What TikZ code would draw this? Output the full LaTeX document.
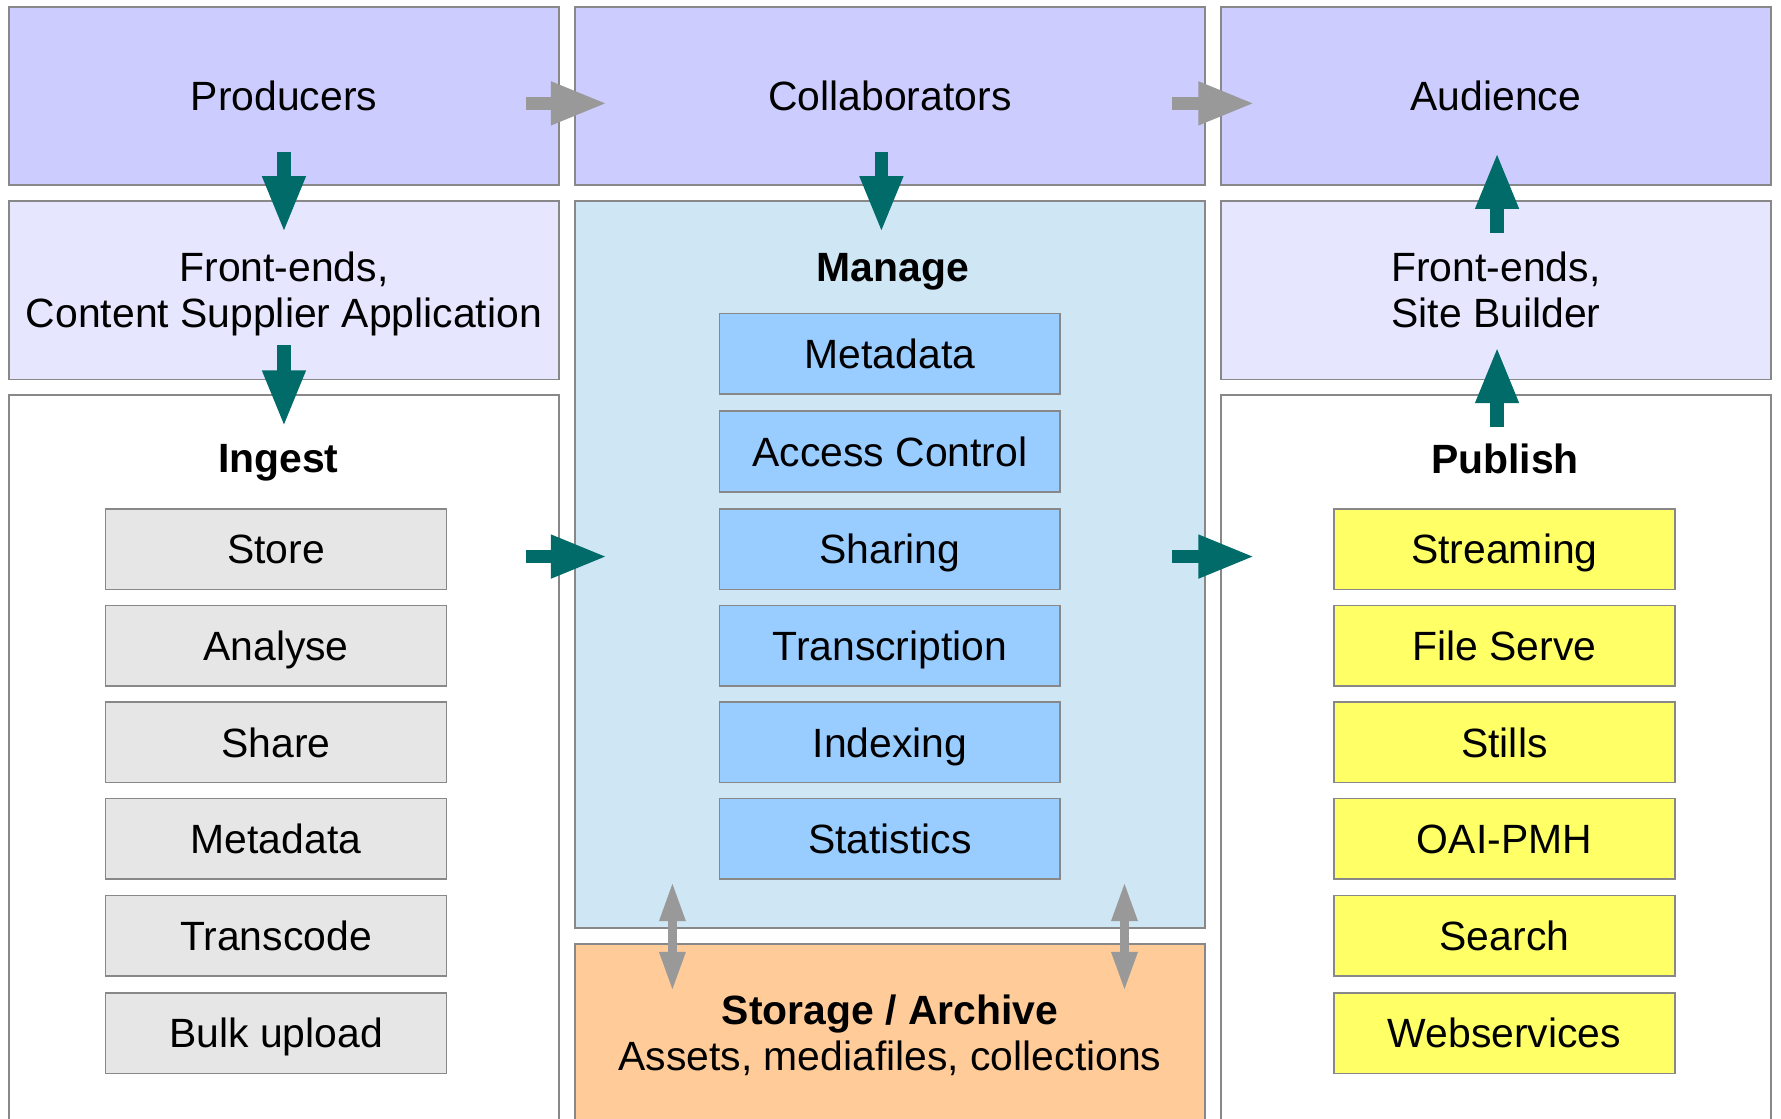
\documentclass[tikz,border=0pt]{standalone}
\usepackage{fontspec}
\setmainfont{Liberation Sans}
\usetikzlibrary{arrows.meta}
\definecolor{topc}{HTML}{CCCCFF}
\definecolor{frontc}{HTML}{E6E6FF}
\definecolor{managec}{HTML}{CFE6F4}
\definecolor{mitemc}{HTML}{99CCFF}
\definecolor{iitemc}{HTML}{E6E6E6}
\definecolor{pitemc}{HTML}{FFFF66}
\definecolor{storec}{HTML}{FFCC99}
\definecolor{borderc}{HTML}{888888}
\definecolor{tealc}{HTML}{006B68}
\definecolor{grayarr}{HTML}{999999}
\tikzset{
  box/.style={draw=borderc, line width=1.5pt, inner sep=0pt, align=center,
    text height=26pt, text depth=0pt,
    font=\fontsize{36}{40.5}\selectfont},
  twolines/.style={text height=66.5pt, text depth=0pt},
  item/.style={box, minimum width=300pt, minimum height=71pt},
  ttl/.style={inner sep=0pt, text height=26pt, text depth=0pt,
    font=\fontsize{36}{40.5}\selectfont\bfseries},
  tealarrow/.style={draw=tealc, line width=12pt, -{Triangle[length=50pt,width=35pt]}},
  grayarrow/.style={draw=grayarr, line width=12pt, -{Triangle[length=50pt,width=35pt]}},
  dblarrow/.style={draw=grayarr, line width=8pt, {Triangle[length=35pt,width=21pt]}-{Triangle[length=35pt,width=21pt]}},
}
\begin{document}
\begin{tikzpicture}[x=1pt,y=-1pt]
\useasboundingbox (0,0) rectangle (1568,985);
\clip (0,0) rectangle (1568,985);
\fill[white] (0,0) rectangle (1568,985);
% top row
\node[box, fill=topc, minimum width=484pt, minimum height=157pt] (prod) at (250,84.5) {Producers};
\node[box, fill=topc, minimum width=555pt, minimum height=157pt] (collab) at (783.5,84.5) {Collaborators};
\node[box, fill=topc, minimum width=484pt, minimum height=157pt] (aud) at (1317,84.5) {Audience};
% second row
\node[box, twolines, fill=frontc, minimum width=484pt, minimum height=157pt] (frontl) at (250,255.5) {Front-ends,\\Content Supplier Application};
\node[box, fill=managec, minimum width=555pt, minimum height=640pt] (manage) at (783.5,497) {};
\node[box, twolines, fill=frontc, minimum width=484pt, minimum height=157pt] (frontr) at (1317,255.5) {Front-ends,\\Site Builder};
% third row
\node[box, fill=white, minimum width=484pt, minimum height=660pt] (ingest) at (250,678) {};
\node[box, fill=white, minimum width=484pt, minimum height=660pt] (publish) at (1317,678) {};
\node[box, fill=storec, minimum width=555pt, minimum height=180pt] (storage) at (783.5,921) {};
\node[inner sep=0pt, align=center, twolines,
  font=\fontsize{36}{40.5}\selectfont] (storaget) at (783.5,909.5)
  {\textbf{Storage / Archive}\\Assets, mediafiles, collections};
% titles
\node[ttl] (ingt) at (245,403) {Ingest};
\node[ttl] (mant) at (786,235) {Manage};
\node[ttl] (pubt) at (1325,404) {Publish};
% ingest items
\node[item, fill=iitemc] (i1) at (243,483.5) {Store};
\node[item, fill=iitemc] (i2) at (243,568.5) {Analyse};
\node[item, fill=iitemc] (i3) at (243,653.5) {Share};
\node[item, fill=iitemc] (i4) at (243,738.5) {Metadata};
\node[item, fill=iitemc] (i5) at (243,824) {Transcode};
\node[item, fill=iitemc] (i6) at (243,909.5) {Bulk upload};
% manage items
\node[item, fill=mitemc] (m1) at (783.5,311.5) {Metadata};
\node[item, fill=mitemc] (m2) at (783.5,397.5) {Access Control};
\node[item, fill=mitemc] (m3) at (783.5,483.5) {Sharing};
\node[item, fill=mitemc] (m4) at (783.5,568.5) {Transcription};
\node[item, fill=mitemc] (m5) at (783.5,653.5) {Indexing};
\node[item, fill=mitemc] (m6) at (783.5,738.5) {Statistics};
% publish items
\node[item, fill=pitemc] (p1) at (1324.5,483.5) {Streaming};
\node[item, fill=pitemc] (p2) at (1324.5,568.5) {File Serve};
\node[item, fill=pitemc] (p3) at (1324.5,653.5) {Stills};
\node[item, fill=pitemc] (p4) at (1324.5,738.5) {OAI-PMH};
\node[item, fill=pitemc] (p5) at (1324.5,824) {Search};
\node[item, fill=pitemc] (p6) at (1324.5,909.5) {Webservices};
% arrow end points
\coordinate (g1a) at (463,91); \coordinate (g1b) at (535,91);
\coordinate (g2a) at (1032,91); \coordinate (g2b) at (1105,91);
\coordinate (d1a) at (250,134); \coordinate (d1b) at (250,205);
\coordinate (d2a) at (250,304); \coordinate (d2b) at (250,376);
\coordinate (d3a) at (776,134); \coordinate (d3b) at (776,205);
\coordinate (u1a) at (1318,205); \coordinate (u1b) at (1318,134);
\coordinate (u2a) at (1318,376); \coordinate (u2b) at (1318,305);
\coordinate (r1a) at (463,490); \coordinate (r1b) at (535,490);
\coordinate (r2a) at (1032,490); \coordinate (r2b) at (1105,490);
\coordinate (s1a) at (592,776); \coordinate (s1b) at (592,873);
\coordinate (s2a) at (990,776); \coordinate (s2b) at (990,873);
% arrows
\draw[grayarrow] (g1a) -- (g1b);
\draw[grayarrow] (g2a) -- (g2b);
\draw[tealarrow] (d1a) -- (d1b);
\draw[tealarrow] (d2a) -- (d2b);
\draw[tealarrow] (d3a) -- (d3b);
\draw[tealarrow] (u1a) -- (u1b);
\draw[tealarrow] (u2a) -- (u2b);
\draw[tealarrow] (r1a) -- (r1b);
\draw[tealarrow] (r2a) -- (r2b);
\draw[dblarrow] (s1a) -- (s1b);
\draw[dblarrow] (s2a) -- (s2b);
\end{tikzpicture}
\end{document}
